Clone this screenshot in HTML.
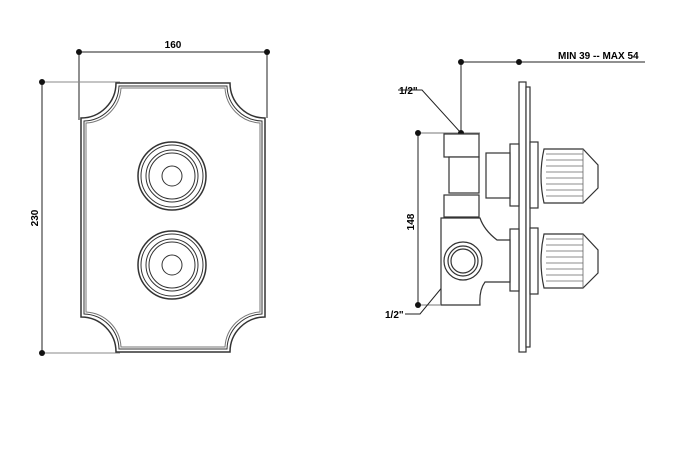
<!DOCTYPE html>
<html><head><style>html,body{margin:0;padding:0;background:#fff}svg{display:block}</style></head><body>
<svg width="692" height="452" viewBox="0 0 692 452" xmlns="http://www.w3.org/2000/svg" font-family="Liberation Sans, sans-serif" font-weight="bold" font-size="10">
<g stroke="#222" fill="none" stroke-width="1">
<!-- left dims -->
<line x1="79" y1="52" x2="267" y2="52"/>
<line x1="79" y1="52" x2="79" y2="120"/>
<line x1="267" y1="52" x2="267" y2="118"/>
<line x1="42" y1="82" x2="42" y2="353"/>
<line x1="42" y1="82" x2="120" y2="82" stroke="#888"/>
<line x1="42" y1="353" x2="120" y2="353" stroke="#888"/>
</g>
<g fill="#111"><circle cx="79" cy="52" r="3"/><circle cx="267" cy="52" r="3"/><circle cx="42" cy="82" r="3"/><circle cx="42" cy="353" r="3"/></g>
<text x="173" y="48" text-anchor="middle">160</text>
<text transform="translate(38,218) rotate(-90)" text-anchor="middle">230</text>
<!-- plate -->
<g fill="none" stroke="#333">
<path d="M116 83 L230 83 A35 35 0 0 0 265 118 L265 317 A35 35 0 0 0 230 352 L116 352 A35 35 0 0 0 81 317 L81 118 A35 35 0 0 0 116 83 Z" stroke-width="1.5"/>
<path d="M119 86 L227 86 A36 36 0 0 0 262 121 L262 314 A36 36 0 0 0 227 349 L119 349 A36 36 0 0 0 84 314 L84 121 A36 36 0 0 0 119 86 Z"/>
<path d="M121 88 L225 88 A37 37 0 0 0 260 123 L260 312 A37 37 0 0 0 225 347 L121 347 A37 37 0 0 0 86 312 L86 123 A37 37 0 0 0 121 88 Z" stroke="#777"/>
<circle cx="172" cy="176" r="34" stroke-width="1.5"/><circle cx="172" cy="176" r="31"/><circle cx="172" cy="176" r="26"/><circle cx="172" cy="176" r="23"/><circle cx="172" cy="176" r="10"/>
<circle cx="172" cy="265" r="34" stroke-width="1.5"/><circle cx="172" cy="265" r="31"/><circle cx="172" cy="265" r="26"/><circle cx="172" cy="265" r="23"/><circle cx="172" cy="265" r="10"/>
</g>
<!-- right dims -->
<g stroke="#222" fill="none">
<line x1="461" y1="62" x2="645" y2="62"/>
<line x1="461" y1="62" x2="461" y2="133"/>
<line x1="418" y1="133" x2="480" y2="133" stroke="#777"/>
<line x1="418" y1="133" x2="418" y2="305"/>
<line x1="418" y1="305" x2="440" y2="305" stroke="#777"/>
<polyline points="398,90 422,90 461,133"/>
<polyline points="405,314 420,314 463,262"/>
</g>
<g fill="#111"><circle cx="461" cy="62" r="3"/><circle cx="519" cy="62" r="3"/><circle cx="461" cy="133" r="3"/><circle cx="418" cy="133" r="3"/><circle cx="418" cy="305" r="3"/><circle cx="463" cy="261" r="2.5"/></g>
<text x="558" y="59">MIN 39 -- MAX 54</text>
<text x="399" y="94">1/2"</text>
<text x="385" y="318">1/2"</text>
<text transform="translate(414,222) rotate(-90)" text-anchor="middle">148</text>
<!-- side view -->
<g fill="#fff" stroke="#333" stroke-width="1.2">
<rect x="519" y="82" width="7" height="270"/>
<rect x="526" y="87" width="4" height="260"/>
<rect x="510" y="144" width="9" height="62"/>
<rect x="510" y="229" width="9" height="62"/>
<rect x="486" y="153" width="24" height="45"/>
<rect x="444" y="134" width="35" height="23"/>
<rect x="449" y="157" width="30" height="36"/>
<rect x="444" y="195" width="35" height="22"/>
<path d="M441 218 L480 218 Q484 230 497 240 L510 240 L510 282 L485 282 Q479 290 480 305 L441 305 Z"/>
<circle cx="463" cy="261" r="19"/><circle cx="463" cy="261" r="15"/><circle cx="463" cy="261" r="12"/>
<rect x="530" y="142" width="8" height="66"/>
<rect x="530" y="228" width="8" height="66"/>
<path d="M544 149 L583 149 L598 165 L598 188 L583 203 L544 203 Q538 176 544 149 Z"/>
<path d="M544 234 L583 234 L598 250 L598 273 L583 288 L544 288 Q538 261 544 234 Z"/>
</g>
<g stroke="#666" stroke-width="0.8">
<line x1="546" y1="154" x2="583" y2="154"/><line x1="546" y1="160" x2="583" y2="160"/><line x1="546" y1="166" x2="583" y2="166"/><line x1="546" y1="172" x2="583" y2="172"/><line x1="546" y1="178" x2="583" y2="178"/><line x1="546" y1="184" x2="583" y2="184"/><line x1="546" y1="190" x2="583" y2="190"/><line x1="546" y1="196" x2="583" y2="196"/>
<line x1="546" y1="239" x2="583" y2="239"/><line x1="546" y1="245" x2="583" y2="245"/><line x1="546" y1="251" x2="583" y2="251"/><line x1="546" y1="257" x2="583" y2="257"/><line x1="546" y1="263" x2="583" y2="263"/><line x1="546" y1="269" x2="583" y2="269"/><line x1="546" y1="275" x2="583" y2="275"/><line x1="546" y1="281" x2="583" y2="281"/>
<line x1="583" y1="149" x2="583" y2="203"/><line x1="583" y1="234" x2="583" y2="288"/>
</g>
</svg>
</body></html>
